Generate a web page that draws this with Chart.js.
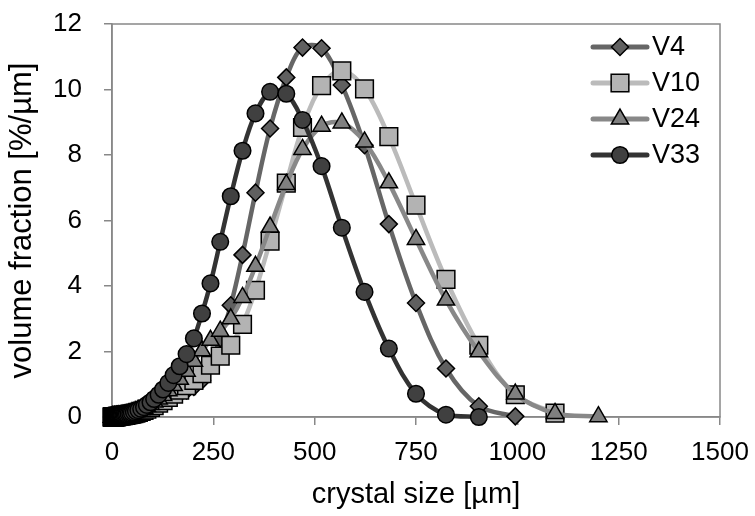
<!DOCTYPE html>
<html>
<head>
<meta charset="utf-8">
<script src="https://cdn.jsdelivr.net/npm/chart.js@4.4.0/dist/chart.umd.min.js"></script>
<style>
  html, body { margin: 0; padding: 0; background: #fff; }
</style>
</head>
<body>
<canvas id="grafico" width="755" height="516"></canvas>
<script>
// tamaños de cristal (µm)
const sizes = [0.5, 0.7, 0.9, 1.1, 1.3, 1.6, 2, 2.5, 3, 3.5,
  4, 4.5, 5, 5.5, 6, 6.5, 7, 7.5, 8, 9,
  10, 11, 12, 13, 14, 15.5, 17, 19, 21, 23,
  25, 28, 31, 34, 37, 41, 45, 49, 54, 59,
  65, 72, 79, 86, 95, 104, 115, 126, 139, 152,
  167, 184, 202, 222, 243, 267, 293, 322, 354, 390,
  430, 470, 517, 567, 623, 683, 750, 824, 905, 995,
  1093, 1200]

const v4 = [0, 0, 0, 0, 0, 0, 0, 0, 0, 0,
  0, 0, 0.01, 0.01, 0.01, 0.01, 0.01, 0.01, 0.01, 0.01,
  0.01, 0.01, 0.02, 0.02, 0.02, 0.02, 0.02, 0.03, 0.03, 0.03,
  0.04, 0.04, 0.05, 0.05, 0.06, 0.07, 0.08, 0.09, 0.1, 0.12,
  0.14, 0.16, 0.19, 0.22, 0.26, 0.31, 0.37, 0.44, 0.52, 0.61,
  0.71, 0.81, 0.92, 1.12, 1.6, 2.4, 3.41, 4.95, 6.85, 8.81,
  10.37, 11.28, 11.26, 10.14, 8.3, 5.89, 3.48, 1.48, 0.33, 0.02,
  null, null]

const v10 = [0, 0, 0, 0, 0, 0, 0, 0, 0, 0,
  0, 0, 0, 0, 0.01, 0.01, 0.01, 0.01, 0.01, 0.01,
  0.01, 0.01, 0.01, 0.02, 0.02, 0.02, 0.02, 0.03, 0.03, 0.03,
  0.04, 0.04, 0.05, 0.05, 0.06, 0.07, 0.08, 0.09, 0.1, 0.12,
  0.14, 0.17, 0.2, 0.24, 0.29, 0.35, 0.42, 0.5, 0.6, 0.7,
  0.82, 0.96, 1.12, 1.32, 1.58, 1.86, 2.19, 2.83, 3.87, 5.37,
  7.14, 8.84, 10.12, 10.57, 10.02, 8.56, 6.47, 4.2, 2.19, 0.68,
  0.12, null]

const v24 = [0, 0, 0, 0, 0, 0, 0, 0, 0, 0,
  0, 0, 0.01, 0.01, 0.01, 0.01, 0.01, 0.01, 0.01, 0.01,
  0.01, 0.02, 0.02, 0.02, 0.02, 0.03, 0.03, 0.03, 0.04, 0.04,
  0.05, 0.05, 0.06, 0.07, 0.08, 0.09, 0.1, 0.12, 0.14, 0.16,
  0.19, 0.23, 0.27, 0.32, 0.38, 0.46, 0.55, 0.66, 0.8, 0.96,
  1.15, 1.4, 1.7, 2.02, 2.34, 2.62, 3.0, 3.65, 4.6, 5.8,
  7.1, 8.17, 8.88, 8.98, 8.4, 7.15, 5.42, 3.57, 1.99, 0.7,
  0.11, 0.01]

const v33 = [0, 0, 0, 0, 0, 0, 0, 0, 0, 0,
  0.01, 0.01, 0.01, 0.01, 0.01, 0.01, 0.01, 0.01, 0.01, 0.02,
  0.02, 0.02, 0.02, 0.03, 0.03, 0.03, 0.04, 0.04, 0.05, 0.05,
  0.06, 0.06, 0.07, 0.08, 0.09, 0.1, 0.11, 0.13, 0.15, 0.18,
  0.21, 0.25, 0.3, 0.37, 0.45, 0.55, 0.68, 0.84, 1.04, 1.28,
  1.55, 1.92, 2.4, 3.16, 4.08, 5.35, 6.74, 8.13, 9.27, 9.93,
  9.87, 9.07, 7.66, 5.78, 3.82, 2.09, 0.71, 0.07, 0, null,
  null, null]

const seriesNames = ['V4', 'V10', 'V24', 'V33']
const xTicks = [0, 250, 500, 750, 1000, 1250, 1500]
const yTicks = [0, 2, 4, 6, 8, 10, 12]

const FONT = "'Liberation Sans', Arial, sans-serif"
const GRIS_EJE = '#888888'

const toPoints = (vals) =>
  sizes.map((s, i) => ({ x: s, y: vals[i] })).filter((p) => p.y !== null)

const estilos = [
  { line: '#666666', fill: '#606060', marker: 'rectRot', r: 8.5 },
  { line: '#bbbbbb', fill: '#b3b3b3', marker: 'rect', r: 12.5 },
  { line: '#888888', fill: '#808080', marker: 'triangle', r: 10 },
  { line: '#333333', fill: '#404040', marker: 'circle', r: 8.3 },
]

const todos = [v4, v10, v24, v33]

const datasets = todos.map((vals, i) => ({
  label: seriesNames[i],
  data: toPoints(vals),
  borderColor: estilos[i].line,
  borderWidth: 4.5,
  backgroundColor: estilos[i].fill,
  pointStyle: estilos[i].marker,
  pointRadius: estilos[i].r,
  pointBackgroundColor: estilos[i].fill,
  pointBorderColor: '#000000',
  pointBorderWidth: 1.5,
  tension: 0.35,
  clip: false,
  order: 4 - i,
}))

const drawMarker = (ctx, style, x, y, r) => {
  ctx.beginPath()
  if (style === 'circle') {
    ctx.arc(x, y, r, 0, Math.PI * 2)
  } else if (style === 'rectRot') {
    ctx.moveTo(x, y - r)
    ctx.lineTo(x + r, y)
    ctx.lineTo(x, y + r)
    ctx.lineTo(x - r, y)
  } else if (style === 'rect') {
    const s = r * Math.SQRT1_2
    ctx.rect(x - s, y - s, 2 * s, 2 * s)
  } else if (style === 'triangle') {
    ctx.moveTo(x, y - r)
    ctx.lineTo(x + r * Math.sin(Math.PI * 2 / 3), y + r / 2)
    ctx.lineTo(x - r * Math.sin(Math.PI * 2 / 3), y + r / 2)
  }
  ctx.closePath()
  ctx.fill()
  ctx.stroke()
}

// caja del area de trazado
const marcoPlot = {
  id: 'marcoPlot',
  beforeDatasetsDraw(chart) {
    const { ctx, chartArea: a } = chart
    ctx.save()
    ctx.strokeStyle = GRIS_EJE
    ctx.lineWidth = 1.5
    ctx.strokeRect(a.left, a.top, a.right - a.left, a.bottom - a.top)
    ctx.restore()
  },
}

// leyenda dentro del grafico, arriba a la derecha
const leyendaDentro = {
  id: 'leyendaDentro',
  afterDatasetsDraw(chart) {
    const { ctx, chartArea: a } = chart
    ctx.save()
    chart.data.datasets.forEach((ds, i) => {
      const y = a.top + 23 + i * 36
      const x0 = a.right - 127
      ctx.strokeStyle = ds.borderColor
      ctx.lineWidth = 5
      ctx.lineCap = 'round'
      ctx.beginPath()
      ctx.moveTo(x0, y)
      ctx.lineTo(x0 + 54, y)
      ctx.stroke()
      ctx.fillStyle = ds.pointBackgroundColor
      ctx.strokeStyle = '#000000'
      ctx.lineWidth = 1.5
      drawMarker(ctx, ds.pointStyle, x0 + 27, y, ds.pointRadius)
      ctx.fillStyle = '#000000'
      ctx.font = '27px ' + FONT
      ctx.textBaseline = 'middle'
      ctx.textAlign = 'left'
      ctx.fillText(ds.label, x0 + 59, y + 1)
    })
    ctx.restore()
  },
}

const ctx = document.getElementById('grafico').getContext('2d')
const miGrafico = new Chart(ctx, {
  type: 'line',
  data: { datasets },
  options: {
    responsive: false,
    devicePixelRatio: 1,
    animation: false,
    layout: { padding: { top: 24, right: 35, left: 0, bottom: 0 } },
    plugins: {
      legend: { display: false },
      tooltip: { enabled: false },
    },
    scales: {
      x: {
        type: 'linear',
        min: 0,
        max: 1500,
        afterBuildTicks: (scale) => {
          scale.ticks = xTicks.map((v) => ({ value: v }))
        },
        afterFit: (scale) => {
          scale.height = 99
          scale.paddingLeft = 0
          scale.paddingRight = 0
        },
        grid: {
          drawOnChartArea: false,
          drawTicks: true,
          tickLength: 8,
          color: GRIS_EJE,
          lineWidth: 1.5,
        },
        border: { display: true, color: GRIS_EJE, width: 1.5 },
        ticks: {
          color: '#000000',
          padding: 12,
          maxRotation: 0,
          callback: (v) => String(v),
          font: { family: FONT, size: 26 },
        },
        title: {
          display: true,
          text: 'crystal size [µm]',
          color: '#000000',
          font: { family: FONT, size: 29, lineHeight: 1 },
          padding: { top: 0, bottom: 7 },
        },
      },
      y: {
        type: 'linear',
        min: 0,
        max: 12,
        afterBuildTicks: (scale) => {
          scale.ticks = yTicks.map((v) => ({ value: v }))
        },
        afterFit: (scale) => {
          scale.width = 112
          scale.paddingTop = 0
          scale.paddingBottom = 0
        },
        grid: {
          drawOnChartArea: false,
          drawTicks: true,
          tickLength: 8,
          color: GRIS_EJE,
          lineWidth: 1.5,
        },
        border: { display: true, color: GRIS_EJE, width: 1.5 },
        ticks: {
          color: '#000000',
          padding: 22,
          callback: (v) => String(v),
          font: { family: FONT, size: 26 },
        },
        title: {
          display: true,
          text: 'volume fraction [%/µm]',
          color: '#000000',
          font: { family: FONT, size: 31, lineHeight: 1 },
          padding: { top: 7, bottom: 0 },
        },
      },
    },
  },
  plugins: [marcoPlot, leyendaDentro],
})
</script>
</body>
</html>
